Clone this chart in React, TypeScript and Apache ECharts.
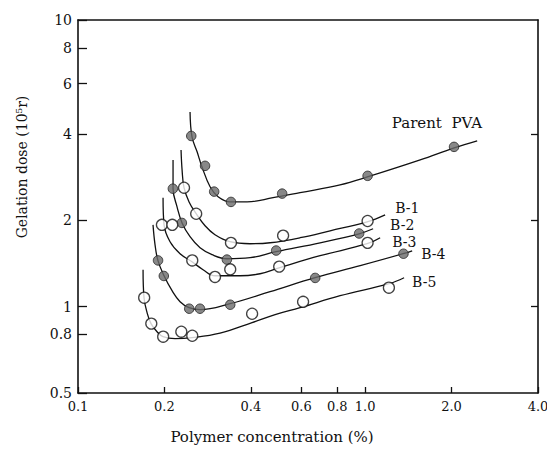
import React, { useEffect, useRef } from "react";
import * as echarts from "echarts";

// Axis ticks (values) and their labels
const X_TICKS = [0.1, 0.2, 0.4, 0.6, 0.8, 1.0, 2.0, 4.0];
const X_TICK_LABELS = ["0.1", "0.2", "0.4", "0.6", "0.8", "1.0", "2.0", "4.0"];
const Y_TICKS = [0.5, 0.8, 1, 2, 4, 6, 8, 10];
const Y_TICK_LABELS = ["0.5", "0.8", "1", "2", "4", "6", "8", "10"];
const RIGHT_TICKS = [1, 2, 4];

// Measured points [concentration %, gelation dose 10^5 r]
const parentPoints = [[0.248, 3.94], [0.277, 3.1], [0.298, 2.52], [0.341, 2.32], [0.514, 2.48], [1.02, 2.86], [2.04, 3.61]];
const b1Points = [[0.234, 2.6], [0.258, 2.11], [0.341, 1.67], [0.518, 1.77], [1.02, 1.99]];
const b2Points = [[0.214, 2.58], [0.23, 1.96], [0.33, 1.46], [0.49, 1.57], [0.953, 1.8]];
const b3Points = [[0.196, 1.93], [0.213, 1.93], [0.25, 1.45], [0.3, 1.27], [0.339, 1.35], [0.502, 1.38], [1.02, 1.67]];
const b4Points = [[0.19, 1.45], [0.199, 1.28], [0.244, 0.984], [0.266, 0.984], [0.339, 1.016], [0.67, 1.26], [1.36, 1.53]];
const b5Points = [[0.17, 1.075], [0.18, 0.873], [0.198, 0.786], [0.229, 0.818], [0.25, 0.792], [0.404, 0.945], [0.608, 1.04], [1.21, 1.165]];

// Fitted curves
const parentCurve = [[0.2456, 4.78], [0.2495, 3.91], [0.2599, 3.47], [0.2704, 3.07], [0.2884, 2.62], [0.3075, 2.42], [0.3386, 2.32], [0.388, 2.32], [0.478, 2.4], [0.5935, 2.5], [0.818, 2.66], [1.024, 2.84], [1.555, 3.25], [2.042, 3.58], [2.456, 3.79]];
const b1Curve = [[0.2285, 3.52], [0.2304, 3.0], [0.234, 2.6], [0.2437, 2.32], [0.258, 2.11], [0.277, 1.915], [0.3, 1.782], [0.3385, 1.685], [0.3975, 1.658], [0.4667, 1.671], [0.5935, 1.74], [0.755, 1.84], [1.016, 1.978], [1.174, 2.092]];
const b2Curve = [[0.2143, 3.25], [0.2143, 2.58], [0.2213, 2.23], [0.2304, 1.96], [0.2456, 1.754], [0.2661, 1.605], [0.293, 1.518], [0.3305, 1.47], [0.3975, 1.482], [0.4896, 1.555], [0.697, 1.671], [0.953, 1.796], [1.066, 1.87]];
const b3Curve = [[0.1978, 2.4], [0.1994, 1.93], [0.2092, 1.685], [0.2267, 1.53], [0.2495, 1.435], [0.2726, 1.346], [0.3, 1.282], [0.3668, 1.282], [0.4306, 1.303], [0.5015, 1.367], [0.697, 1.506], [1.016, 1.658], [1.128, 1.74]];
const b4Curve = [[0.1825, 1.93], [0.1855, 1.644], [0.1899, 1.447], [0.1994, 1.282], [0.2126, 1.137], [0.2267, 1.041], [0.2437, 0.992], [0.2661, 0.976], [0.3385, 1.024], [0.4667, 1.128], [0.6695, 1.262], [0.961, 1.39], [1.356, 1.53], [1.458, 1.567]];
const b5Curve = [[0.1685, 1.346], [0.1698, 1.075], [0.174, 0.953], [0.1796, 0.873], [0.1885, 0.818], [0.1978, 0.786], [0.2178, 0.774], [0.2495, 0.78], [0.3124, 0.809], [0.4039, 0.88], [0.4858, 0.938], [0.5935, 0.992], [0.8183, 1.092], [1.212, 1.203], [1.367, 1.262]];

const SERIES_NAMES = ["Parent PVA", "B-1", "B-2", "B-3", "B-4", "B-5"];

const FONT = "DejaVu Serif";
const lg = (p: number[]) => [Math.log10(p[0]), Math.log10(p[1])];

function labelFor(v: number, ticks: number[], labels: string[]) {
  let best = 0;
  let bd = Infinity;
  ticks.forEach((t, i) => {
    const d = Math.abs(Math.log10(t) - v);
    if (d < bd) { bd = d; best = i; }
  });
  return labels[best];
}

export default function App() {
  const ref = useRef<HTMLDivElement>(null);
  useEffect(() => {
    document.body.style.margin = "0";
    const chart = echarts.init(ref.current!, null, { renderer: "svg" });
    const curves = [parentCurve, b1Curve, b2Curve, b3Curve, b4Curve, b5Curve];
    const points = [parentPoints, b1Points, b2Points, b3Points, b4Points, b5Points];
    const filled = [true, false, true, false, true, false];
    const labelOffsets: any[] = [
      { align: "right", offset: [5, -18] },
      { align: "left", offset: [10, -7] },
      { align: "left", offset: [17, -4] },
      { align: "left", offset: [12, 4] },
      { align: "left", offset: [9, 3] },
      { align: "left", offset: [8, 4] },
    ];
    const lineSeries = curves.map((c, i) => ({
      type: "line",
      name: SERIES_NAMES[i],
      data: c.map(lg),
      smooth: 0.4,
      showSymbol: false,
      symbol: "none",
      lineStyle: { color: "#111", width: 1.3 },
      z: 2,
      silent: true,
      endLabel: {
        show: true,
        formatter: i === 0 ? "Parent  PVA" : SERIES_NAMES[i],
        distance: 0,
        align: labelOffsets[i].align,
        offset: labelOffsets[i].offset,
        fontFamily: FONT,
        fontSize: i === 0 ? 15 : 14,
        color: "#111",
      },
    }));
    const scatterSeries = points.map((p, i) => ({
      type: "scatter",
      name: SERIES_NAMES[i] + " data",
      data: p.map(lg),
      symbol: "circle",
      symbolSize: filled[i] ? 9.5 : 11,
      itemStyle: filled[i]
        ? { color: "#6a6a6a", borderColor: "#222", borderWidth: 1 }
        : { color: "#fff", borderColor: "#111", borderWidth: 1.3 },
      z: 3,
    }));
    const axisLine = { show: true, onZero: false, lineStyle: { color: "#111", width: 1.6 } };
    chart.setOption({
      animation: false,
      backgroundColor: "#fff",
      grid: { left: 78, right: 9, top: 20, bottom: 57, containLabel: false, outerBoundsMode: "none" },
      xAxis: [
        {
          type: "value",
          position: "bottom",
          min: Math.log10(0.1),
          max: Math.log10(4),
          axisLine,
          splitLine: { show: false },
          axisTick: { show: true, inside: true, length: 6, customValues: X_TICKS.map(Math.log10), lineStyle: { color: "#111", width: 1.3 } },
          axisLabel: {
            show: true,
            customValues: X_TICKS.map(Math.log10),
            margin: 7,
            fontFamily: FONT,
            fontSize: 13,
            color: "#111",
            formatter: (v: number) => labelFor(v, X_TICKS, X_TICK_LABELS),
          },
        },
        {
          type: "value",
          position: "top",
          min: Math.log10(0.1),
          max: Math.log10(4),
          axisLine,
          splitLine: { show: false },
          axisTick: { show: false },
          axisLabel: { show: false },
        },
      ],
      yAxis: [
        {
          type: "value",
          position: "left",
          min: Math.log10(0.5),
          max: 1,
          axisLine,
          splitLine: { show: false },
          axisTick: { show: true, inside: true, length: 9, customValues: Y_TICKS.map(Math.log10), lineStyle: { color: "#111", width: 1.3 } },
          axisLabel: {
            show: true,
            customValues: Y_TICKS.map(Math.log10),
            margin: 6,
            fontFamily: FONT,
            fontSize: 14,
            color: "#111",
            formatter: (v: number) => labelFor(v, Y_TICKS, Y_TICK_LABELS),
          },
        },
        {
          type: "value",
          position: "right",
          min: Math.log10(0.5),
          max: 1,
          axisLine,
          splitLine: { show: false },
          axisTick: { show: true, inside: true, length: 7, customValues: RIGHT_TICKS.map(Math.log10), lineStyle: { color: "#111", width: 1.3 } },
          axisLabel: { show: false },
        },
      ],
      graphic: [
        {
          type: "text",
          x: 272,
          y: 437,
          style: { text: "Polymer concentration (%)", fontFamily: FONT, fontSize: 15, fill: "#111", align: "center", verticalAlign: "middle" },
        },
        {
          type: "text",
          x: 22,
          y: 167,
          rotation: Math.PI / 2,
          style: { text: "Gelation dose (10⁵r)", fontFamily: FONT, fontSize: 14, fill: "#111", align: "center", verticalAlign: "middle" },
        },
      ],
      series: [...lineSeries, ...scatterSeries],
    });
    return () => chart.dispose();
  }, []);
  return <div ref={ref} style={{ position: "absolute", left: 0, top: 0, width: 547, height: 450 }} />;
}
